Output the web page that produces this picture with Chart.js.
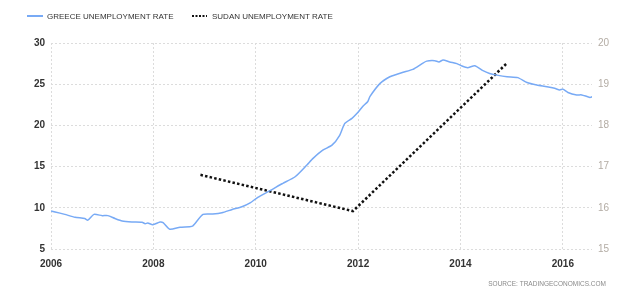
<!DOCTYPE html>
<html>
<head>
<meta charset="utf-8">
<script src="https://cdn.jsdelivr.net/npm/chart.js@4/dist/chart.umd.min.js"></script>
<style>
    html, body { margin: 0; padding: 0; background: #fff; }
    #wrap { width: 643px; height: 299px; position: relative; }
</style>
</head>
<body>
<div id="wrap"><canvas id="chart"></canvas></div>
<script>
// Greece unemployment rate (left axis)
const greeceYears = [
    2006.0, 2006.08, 2006.27, 2006.47, 2006.66, 2006.72, 2006.84, 2007.0, 2007.11, 2007.25,
    2007.39, 2007.58, 2007.78, 2007.84, 2007.89, 2007.99, 2008.13, 2008.19, 2008.32, 2008.52,
    2008.71, 2008.77, 2008.97, 2009.16, 2009.34, 2009.54, 2009.73, 2009.89, 2010.04, 2010.28,
    2010.47, 2010.53, 2010.77, 2011.0, 2011.12, 2011.31, 2011.49, 2011.64, 2011.74, 2011.88,
    2011.98, 2012.09, 2012.19, 2012.23, 2012.43, 2012.62, 2012.76, 2012.88, 2013.07, 2013.25,
    2013.34, 2013.5, 2013.58, 2013.66, 2013.79, 2013.93, 2014.03, 2014.14, 2014.28, 2014.44,
    2014.57, 2014.71, 2014.91, 2015.12, 2015.3, 2015.49, 2015.69, 2015.84, 2015.94, 2016.0,
    2016.1, 2016.27, 2016.37, 2016.53, 2016.59
];
const greeceRate = [
    9.6, 9.5, 9.2, 8.85, 8.7, 8.5, 9.2, 9.05, 9.05, 8.7,
    8.4, 8.28, 8.24, 8.07, 8.15, 7.95, 8.28, 8.2, 7.4, 7.63,
    7.7, 7.8, 9.2, 9.25, 9.4, 9.8, 10.13, 10.6, 11.27, 12.08,
    12.77, 12.97, 13.77, 15.2, 16.0, 17.0, 17.6, 18.8, 20.25, 20.86,
    21.47, 22.3, 22.9, 23.5, 25.1, 25.9, 26.2, 26.44, 26.8, 27.5,
    27.8, 27.85, 27.7, 27.94, 27.7, 27.5, 27.2, 27.0, 27.25, 26.64,
    26.3, 26.1, 25.9, 25.8, 25.2, 24.9, 24.7, 24.5, 24.3, 24.4,
    24.0, 23.7, 23.7, 23.4, 23.5
];

// Sudan unemployment rate (right axis)
const sudanYears = [2008.92, 2011.9, 2014.9];
const sudanRate = [16.8, 15.92, 19.5];

const seriesNames = ['GREECE UNEMPLOYMENT RATE', 'SUDAN UNEMPLOYMENT RATE'];
const sourceText = 'SOURCE: TRADINGECONOMICS.COM';

const greeceColor = '#78aaf5';
const sudanColor = '#111111';
const gridColor = '#dcdcdc';

// legend and source line, drawn on the canvas like the original
const extras = {
    id: 'extras',
    afterDraw(chart) {
        const ctx = chart.ctx;
        ctx.save();
        ctx.font = '8px "Liberation Sans", Arial, sans-serif';
        ctx.textBaseline = 'middle';
        ctx.fillStyle = '#333';

        ctx.strokeStyle = greeceColor;
        ctx.lineWidth = 2;
        ctx.beginPath();
        ctx.moveTo(27, 16);
        ctx.lineTo(43, 16);
        ctx.stroke();
        ctx.fillText(seriesNames[0], 47, 16.5);

        ctx.strokeStyle = sudanColor;
        ctx.setLineDash([2, 1.5]);
        ctx.beginPath();
        ctx.moveTo(192, 16);
        ctx.lineTo(207, 16);
        ctx.stroke();
        ctx.setLineDash([]);
        ctx.fillText(seriesNames[1], 212, 16.5);

        ctx.font = '6.5px "Liberation Sans", Arial, sans-serif';
        ctx.fillStyle = '#8a8a8a';
        ctx.textAlign = 'right';
        ctx.fillText(sourceText, 606, 284);
        ctx.restore();
    }
};

new Chart(document.getElementById('chart'), {
    type: 'line',
    data: {
        datasets: [{
                label: seriesNames[0],
                data: greeceYears.map((x, i) => ({ x, y: greeceRate[i] })),
                borderColor: greeceColor,
                borderWidth: 1.5,
                pointRadius: 0,
                tension: 0.2,
                yAxisID: 'y'
            },
            {
                label: seriesNames[1],
                data: sudanYears.map((x, i) => ({ x, y: sudanRate[i] })),
                borderColor: sudanColor,
                borderWidth: 2.5,
                borderDash: [2.5, 2.2],
                pointRadius: 0,
                tension: 0,
                yAxisID: 'y2'
            }
        ]
    },
    options: {
        responsive: true,
        maintainAspectRatio: false,
        animation: false,
        layout: { padding: { top: 43, left: 0, right: 0, bottom: 0 } },
        plugins: {
            legend: { display: false },
            tooltip: { enabled: false }
        },
        scales: {
            x: {
                type: 'linear',
                min: 2006,
                max: 2016.57,
                afterFit: scale => { scale.height = 50; },
                ticks: {
                    stepSize: 2,
                    includeBounds: false,
                    padding: 9,
                    color: '#333',
                    font: { family: '"Liberation Sans", Arial, sans-serif', size: 10, weight: 'bold' },
                    callback: value => String(value)
                },
                grid: { color: gridColor, drawTicks: false },
                border: { display: false, dash: [2, 2] }
            },
            y: {
                position: 'left',
                min: 5,
                max: 30,
                afterFit: scale => { scale.width = 51; },
                ticks: {
                    stepSize: 5,
                    padding: 6,
                    color: '#333',
                    font: { family: '"Liberation Sans", Arial, sans-serif', size: 10, weight: 'bold' }
                },
                grid: { color: gridColor, drawTicks: false },
                border: { display: false, dash: [2, 2] }
            },
            y2: {
                position: 'right',
                min: 15,
                max: 20,
                afterFit: scale => { scale.width = 51; },
                ticks: {
                    stepSize: 1,
                    padding: 6,
                    color: '#b3aca4',
                    font: { family: '"Liberation Sans", Arial, sans-serif', size: 10 }
                },
                grid: { drawOnChartArea: false, drawTicks: false },
                border: { display: false }
            }
        }
    },
    plugins: [extras]
});
</script>
</body>
</html>
